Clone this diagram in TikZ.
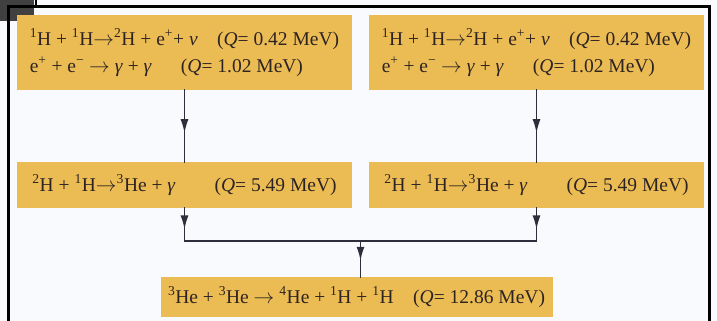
\documentclass[tikz,border=0pt]{standalone}
\usepackage{fontspec}
\setmainfont{Liberation Serif}
\usetikzlibrary{positioning, arrows.meta, calc, decorations.markings}

\definecolor{paper}{RGB}{248,250,253}
\definecolor{gold}{RGB}{236,188,84}
\definecolor{ink}{RGB}{45,35,35}
\definecolor{wire}{RGB}{45,45,60}

\newcommand{\iso}[2]{\textsuperscript{#1}#2}
\newcommand{\yields}{\ensuremath{\rightarrow}}

\begin{document}
\begin{tikzpicture}[
    x=1pt, y=1pt,
    reaction/.style={
        rectangle,
        fill=gold,
        text=ink,
        minimum width=335pt,
        inner xsep=0pt,
        outer sep=0pt,
        align=left,
        font=\fontsize{19.5}{27}\selectfont
    },
    flow/.style={
        draw=wire,
        line width=1.7pt,
        line cap=rect,
        postaction={decorate},
        decoration={markings, mark=at position #1 with {\arrow{Latex[length=14pt,width=8pt]}}}
    },
    flow/.default=0.6,
    link/.style={
        draw=wire,
        line width=1.7pt,
        line cap=rect
    }
]

    % -- page and frame --
    \useasboundingbox (0,0) rectangle (717,-321);
    \fill[paper] (0,0) rectangle (717,-321);
    \fill[black!75] (0,0) rectangle (34,-21);
    \draw[line width=3pt] (8,-330) |- (709.5,-6.5) -- (709.5,-330);
    \draw[line width=2pt] (36,0) -- (36,-8);

    % -- proton-proton step, two branches --
    \node[reaction, minimum height=75pt, anchor=north west] (pp1) at (17,-15)
        {\iso{1}{H} + \iso{1}{H}\yields\iso{2}{H} + e\textsuperscript{+}+ \textit{ν}\quad (\textit{Q}= 0.42 MeV)\\
         e\textsuperscript{+} + e\textsuperscript{−} \yields{} \textit{γ} + \textit{γ}\quad\ \ (\textit{Q}= 1.02 MeV)};
    \node[reaction, minimum height=75pt, right=17pt of pp1] (pp2)
        {\iso{1}{H} + \iso{1}{H}\yields\iso{2}{H} + e\textsuperscript{+}+ \textit{ν}\quad (\textit{Q}= 0.42 MeV)\\
         e\textsuperscript{+} + e\textsuperscript{−} \yields{} \textit{γ} + \textit{γ}\quad\ \ (\textit{Q}= 1.02 MeV)};

    % -- deuterium capture --
    \node[reaction, minimum height=46pt, below=72pt of pp1] (dp1)
        {\iso{2}{H} + \iso{1}{H}\yields\iso{3}{He} + \textit{γ}\qquad (\textit{Q}= 5.49 MeV)};
    \node[reaction, minimum height=46pt, below=72pt of pp2] (dp2)
        {\iso{2}{H} + \iso{1}{H}\yields\iso{3}{He} + \textit{γ}\qquad (\textit{Q}= 5.49 MeV)};

    % Joining the branches
    \coordinate (jl) at ($(dp1.south)+(0,-33)$);
    \coordinate (jr) at ($(dp2.south)+(0,-33)$);
    \coordinate (jm) at ($(jl)!0.5!(jr)$);

    % -- helium-3 fusion --
    \node[reaction, minimum width=392pt, minimum height=40pt, below=36pt of jm, xshift=-4pt] (hehe)
        {\iso{3}{He} + \iso{3}{He} \yields{} \iso{4}{He} + \iso{1}{H} + \iso{1}{H}\quad (\textit{Q}= 12.86 MeV)};

    % Arrows
    \draw[flow] (pp1.south) -- (dp1.north);
    \draw[flow] (pp2.south) -- (dp2.north);
    \draw[flow=0.65] (dp1.south) -- (jl);
    \draw[flow=0.65] (dp2.south) -- (jr);
    \draw[link] (jl) -- (jr);
    \draw[flow=0.55] (jm) -- (hehe.north -| jm);

\end{tikzpicture}
\end{document}
